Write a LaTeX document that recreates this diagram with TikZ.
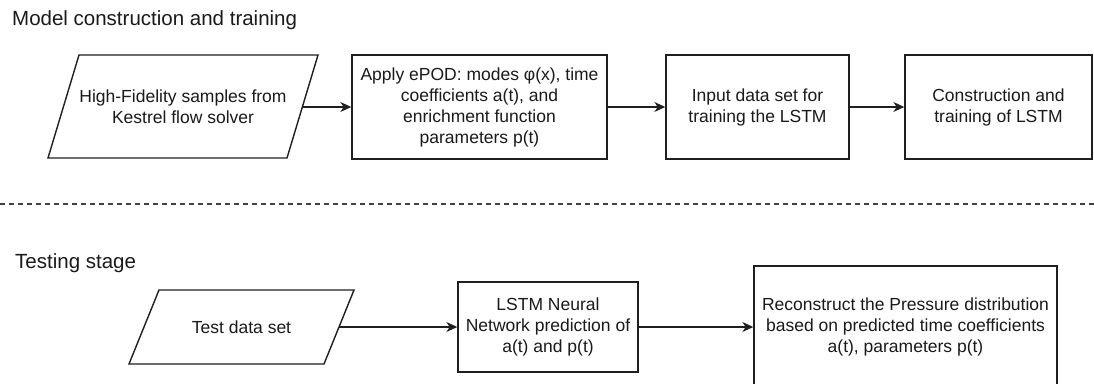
\documentclass[tikz,border=0pt]{standalone}
\usepackage{fontspec}
\setmainfont{Liberation Sans}
\usetikzlibrary{arrows.meta}
\definecolor{txt}{HTML}{1A1A1A}
\definecolor{edge}{HTML}{1F1F1F}
\begin{document}
\begin{tikzpicture}[x=1pt,y=-1pt,
  box/.style={draw=edge, line width=1.4pt, align=center, inner sep=0pt, font=\fontsize{17.5}{21}\selectfont, text=txt},
  lbl/.style={align=center, inner sep=0pt, font=\fontsize{17.5}{21}\selectfont, text=txt},
  title/.style={anchor=base west, inner sep=0pt, font=\fontsize{20.5}{24}\selectfont, text=txt},
  arr/.style={draw=edge, line width=1.4pt, -{Stealth[length=11pt,width=10pt,inset=3.5pt]}},
  shapeline/.style={draw=edge, line width=1.4pt, line join=miter},
  sep/.style={draw=edge!85, line width=1.4pt, dash pattern=on 5pt off 4pt}]
\clip (0,0) rectangle (1094,383);
\fill[white] (0,0) rectangle (1094,383);

% titles
\node[title] (t1) at (12,25) {Model construction and training};
\node[title] (t2) at (15,268) {Testing stage};

% separator
\coordinate (sepL) at (0,204);
\coordinate (sepR) at (1094,204);
\draw[sep] (sepL) -- (sepR);

% top row
\draw[shapeline] (48,158) -- (79,55) -- (318,55) -- (287,158) -- cycle;
\node[lbl] (p1) at (183,107) {High-Fidelity samples from\\Kestrel flow solver};
\coordinate (p1e) at (302.5,107);

\node[box, minimum width=255pt, minimum height=104pt] (b2) at (479.5,107)
  {Apply ePOD: modes φ(x), time\\coefficients a(t), and\\enrichment function\\parameters p(t)};
\node[box, minimum width=183pt, minimum height=104pt] (b3) at (757.5,107)
  {Input data set for\\training the LSTM};
\node[box, minimum width=187pt, minimum height=104pt] (b4) at (998.5,107)
  {Construction and\\training of LSTM};

\draw[arr] (p1e) -- (b2.west);
\draw[arr] (b2.east) -- (b3.west);
\draw[arr] (b3.east) -- (b4.west);

% bottom row
\draw[shapeline] (129,364) -- (159,290) -- (354,290) -- (324,364) -- cycle;
\node[lbl] (p2) at (241.5,327) {Test data set};
\coordinate (p2e) at (339,327);

\node[box, minimum width=180pt, minimum height=90pt] (l1) at (548,327)
  {LSTM Neural\\Network prediction of\\a(t) and p(t)};
\node[box, minimum width=303pt, minimum height=122pt] (r1) at (905.5,327)
  {Reconstruct the Pressure distribution\\based on predicted time coefficients\\a(t), parameters p(t)};

\draw[arr] (p2e) -- (l1.west);
\draw[arr] (l1.east) -- (r1.west);
\end{tikzpicture}
\end{document}
